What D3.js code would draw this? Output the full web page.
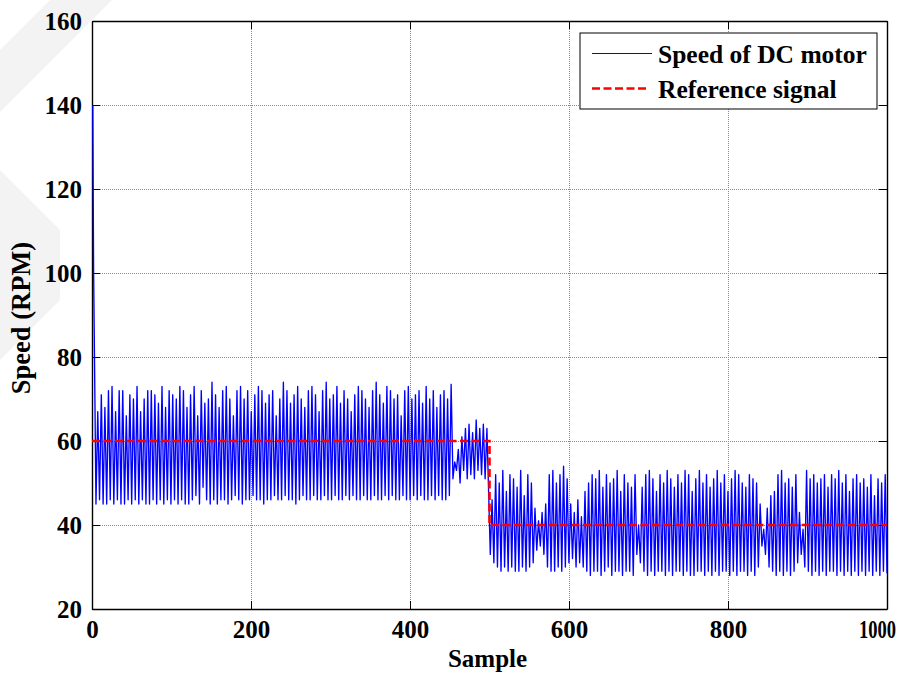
<!DOCTYPE html>
<html>
<head>
<meta charset="utf-8">
<script src="https://cdn.jsdelivr.net/npm/d3@7"></script>
<style>
  body { margin: 0; background: #fff; }
  svg { display: block; font-family: 'Liberation Serif', 'Times New Roman', serif; font-weight: bold; }
</style>
</head>
<body>
<svg id="chart" width="916" height="678"></svg>
<script>
var WIDTH = 916
  , HEIGHT = 678
  , FONT_SIZE = 25
  , margin = {top: 21, right: 29, bottom: 69, left: 92}

var xTicks = [0, 200, 400, 600, 800, 1000]
  , yTicks = [20, 40, 60, 80, 100, 120, 140, 160]
  , xDomain = [0, 1000]
  , yDomain = [20, 160]

var seriesNames = ['Speed of DC motor', 'Reference signal']

// reference signal: 60 rpm then a step down to 40 rpm at sample 500
var refSamples = [0, 500, 500, 1000]
  , refSpeeds = [60, 60, 40, 40]

// start-up spike (samples are counted from 1)
var startSamples = [1, 2]
  , startSpeeds = [140, 101]

// samples 5 .. 454, troughs and peaks of the oscillation
var troughsA = [
    45, 46, 45, 45, 46, 45, 46, 45, 45, 46
  , 45, 46, 45, 46, 45, 45, 46, 45, 46, 45
  , 46, 45, 46, 45, 46, 45, 45, 46, 47, 45
  , 49, 46, 45, 46, 45, 46, 46, 45, 46, 47
  , 46, 45, 46, 46, 47, 46, 46, 45, 46, 46
  , 47, 46, 46, 47, 46, 46, 45, 46, 47, 46
  , 46, 47, 46, 46, 47, 46, 46, 47, 46, 46
  , 47, 46, 47, 46, 46, 47, 46, 46, 47, 46
  , 46, 47, 46, 47, 46, 46, 47, 46, 46, 47
  , 46, 47, 46, 46, 47, 46, 47, 46, 46, 47
  , 51
]

var peaksA = [
    67, 71, 68, 72, 73, 67, 72, 72, 66, 71
  , 70, 73, 67, 70, 72, 72, 71, 69, 73, 68
  , 72, 71, 70, 73, 72, 68, 71, 73, 66, 72
  , 69, 70, 74, 71, 68, 72, 73, 70, 66, 72
  , 73, 70, 72, 67, 71, 73, 72, 69, 71, 72
  , 66, 70, 74, 72, 69, 71, 73, 70, 68, 72
  , 73, 71, 67, 72, 74, 70, 71, 73, 69, 72
  , 70, 67, 71, 73, 72, 70, 68, 72, 74, 71
  , 69, 73, 72, 70, 71, 66, 72, 73, 70, 71
  , 72, 69, 73, 70, 72, 68, 71, 72, 70, 73.5
]

// samples 456 .. 497, smaller swing just before the step
var transientB = [55, 53, 58, 50, 61, 53, 63, 51, 64, 52, 62, 51, 65, 53, 63, 52, 64, 51, 63]

// samples 501 .. 1000
var troughsC = [
    33, 31, 30, 29, 30, 29, 30, 29, 29, 30, 29, 30
  , 31, 34, 35, 33
  , 30, 29, 29, 30, 29, 30
  , 31, 32, 30, 31, 30
  , 29, 28, 29, 29, 28, 29, 30, 28, 29, 29, 28, 29, 29, 28
  , 33, 31
  , 29, 28, 29, 28, 29, 29, 28, 29, 28, 29, 29, 28, 29, 28, 28, 29, 29
  , 28, 29, 28, 29, 28, 29, 29, 28, 29, 28, 29, 29, 28, 29, 28, 30
  , 35, 33
  , 30, 29, 28, 29, 28, 29, 28, 29, 31
  , 33, 30
  , 29, 28, 29, 28, 29, 28, 29, 29, 28, 29, 28, 29, 28, 29, 28, 29
  , 28, 29, 28, 29, 28, 29, 28.5
]

var peaksC = [
    46, 52, 50, 53, 48, 52, 51, 49, 53, 47, 52, 50
  , 44, 41, 43, 45
  , 52, 53, 50, 52, 54, 51
  , 45, 43, 46, 42
  , 48, 50, 52, 51, 53, 49, 52, 50, 51, 53, 48, 52, 50, 49, 52
  , 40
  , 49, 52, 53, 51, 48, 52, 50, 53, 51, 49, 52, 50, 53, 52, 48, 51, 53
  , 50, 52, 49, 51, 53, 50, 52, 48, 51, 53, 52, 50, 49, 52, 51, 50
  , 45, 39, 44
  , 47, 48, 52, 53, 50, 51, 49, 52
  , 43, 39
  , 53, 51, 52, 50, 51, 52, 49, 52, 51, 53, 50, 52, 48, 51, 52, 50
  , 51, 49, 52, 47, 51, 50, 52
]

// faint watermark stripes behind the figure
var watermark = [
    [[50, 0], [112, 0], [0, 112], [0, 50]]
  , [[0, 170], [60, 230], [60, 300], [0, 360]]
]

var svg = d3.select('#chart')
  , width = WIDTH - margin.left - margin.right
  , height = HEIGHT - margin.top - margin.bottom

var x = d3.scaleLinear().domain(xDomain).range([0, width])
  , y = d3.scaleLinear().domain(yDomain).range([height, 0])

svg.append('g')
  .attr('class', 'watermark')
  .selectAll('polygon')
  .data(watermark)
  .enter()
    .append('polygon')
    .attr('points', function(d) { return d.join(' ') })
    .attr('fill', '#f3f3f3')

var plot = svg.append('g')
  .attr('transform', 'translate(' + margin.left + ',' + margin.top + ')')

plot.append('rect')
  .attr('width', width)
  .attr('height', height)
  .attr('fill', '#fff')

plot.append('clipPath')
  .attr('id', 'clip')
  .append('rect')
    .attr('width', width)
    .attr('height', height)

drawGrid(plot)

var speed = buildSpeed()

var line = d3.line()
  .x(function(d) { return x(d.sample) })
  .y(function(d) { return y(d.speed) })

plot.append('path')
  .datum(refSamples.map(function(s, i) { return {sample: s, speed: refSpeeds[i]} }))
  .attr('class', 'ref-under')

drawAxes(plot)

plot.append('path')
  .datum(speed)
  .attr('clip-path', 'url(#clip)')
  .attr('d', line)
  .attr('fill', 'none')
  .attr('stroke', '#0000ff')
  .attr('stroke-width', 1.35)
  .attr('stroke-linejoin', 'round')

plot.append('path')
  .datum(refSamples.map(function(s, i) { return {sample: s, speed: refSpeeds[i]} }))
  .attr('d', line)
  .attr('fill', 'none')
  .attr('stroke', '#ff0000')
  .attr('stroke-width', 2.6)
  .attr('stroke-dasharray', '8,3.5')

drawLegend(plot)

svg.append('text')
  .attr('x', margin.left + width / 2 - 2)
  .attr('y', 667)
  .attr('text-anchor', 'middle')
  .attr('font-size', FONT_SIZE)
  .text('Sample')

svg.append('text')
  .attr('transform', 'translate(30,' + (margin.top + height / 2 + 3) + ') rotate(-90)')
  .attr('text-anchor', 'middle')
  .attr('font-size', 26.5)
  .text('Speed (RPM)')

function buildSpeed() {
  var out = startSamples.map(function(s, i) {
    return {sample: s, speed: startSpeeds[i]}
  })

  var segments = [
      {from: 5, to: 454, values: interleave(troughsA, peaksA)}
    , {from: 456.25, to: 496.75, values: transientB}
    , {from: 501, to: 1000, values: interleave(troughsC, peaksC)}
  ]

  segments.forEach(function(seg) {
    var step = (seg.to - seg.from) / (seg.values.length - 1)

    seg.values.forEach(function(v, i) {
      out.push({sample: seg.from + i * step, speed: v})
    })
  })

  return out
}

function interleave(lows, highs) {
  var out = []

  for(var i = 0, len = lows.length; i < len; ++i) {
    out.push(lows[i])
    if(i < highs.length) {
      out.push(highs[i])
    }
  }

  return out
}

function drawGrid(g) {
  var grid = g.append('g')
    .attr('class', 'grid')
    .attr('stroke', '#8a8a8a')
    .attr('stroke-width', 1)
    .attr('stroke-dasharray', '1,1')

  grid.selectAll('.gx')
    .data(xTicks.slice(1, -1))
    .enter()
      .append('line')
      .attr('x1', function(d) { return Math.round(x(d)) + 0.5 })
      .attr('x2', function(d) { return Math.round(x(d)) + 0.5 })
      .attr('y1', 0)
      .attr('y2', height)

  grid.selectAll('.gy')
    .data(yTicks.slice(1, -1))
    .enter()
      .append('line')
      .attr('y1', function(d) { return Math.round(y(d)) + 0.5 })
      .attr('y2', function(d) { return Math.round(y(d)) + 0.5 })
      .attr('x1', 0)
      .attr('x2', width)
}

function drawAxes(g) {
  var bottom = g.append('g')
    .attr('transform', 'translate(0,' + height + ')')
    .call(d3.axisBottom(x).tickValues(xTicks).tickSize(-8).tickSizeOuter(0).tickPadding(11).tickFormat(d3.format('d')))

  var left = g.append('g')
    .call(d3.axisLeft(y).tickValues(yTicks).tickSize(-8).tickSizeOuter(0).tickPadding(10))

  g.append('g')
    .call(d3.axisTop(x).tickValues(xTicks).tickSize(-8).tickSizeOuter(0).tickFormat(''))

  g.append('g')
    .attr('transform', 'translate(' + width + ',0)')
    .call(d3.axisRight(y).tickValues(yTicks).tickSize(-8).tickSizeOuter(0).tickFormat(''))

  g.selectAll('.domain')
    .attr('stroke', '#000')
    .attr('stroke-width', 1.4)

  g.selectAll('.tick line')
    .attr('stroke', '#000')

  ;[bottom, left].forEach(function(axis) {
    axis
      .attr('font-family', null)
      .attr('font-size', FONT_SIZE)
      .selectAll('text')
        .attr('fill', '#000')
  })

  // the last label is squeezed in the original figure
  bottom.selectAll('.tick text')
    .filter(function(d) { return d === xDomain[1] })
    .attr('x', -10)
    .attr('textLength', 37)
    .attr('lengthAdjust', 'spacingAndGlyphs')
}

function drawLegend(g) {
  var boxW = 297
    , boxH = 76
    , left = width - 10 - boxW
    , top = 12

  var legend = g.append('g')
    .attr('class', 'legend')
    .attr('transform', 'translate(' + left + ',' + top + ')')

  legend.append('rect')
    .attr('width', boxW)
    .attr('height', boxH)
    .attr('fill', '#fff')
    .attr('stroke', '#000')
    .attr('stroke-width', 1)

  var rows = [
      {name: seriesNames[0], color: '#0000ff', width: 1.2, dash: null, len: 60}
    , {name: seriesNames[1], color: '#ff0000', width: 2.6, dash: '8,3.5', len: 56}
  ]

  var row = legend.selectAll('.row')
    .data(rows)
    .enter()
      .append('g')
      .attr('transform', function(d, i) { return 'translate(0,' + (20.5 + i * 35) + ')' })

  row.append('line')
    .attr('x1', 12)
    .attr('x2', function(d) { return 12 + d.len })
    .attr('stroke', function(d) { return d.color })
    .attr('stroke-width', function(d) { return d.width })
    .attr('stroke-dasharray', function(d) { return d.dash })

  row.append('text')
    .attr('x', 78)
    .attr('y', 9)
    .attr('font-size', 25.5)
    .text(function(d) { return d.name })
}
</script>
</body>
</html>
